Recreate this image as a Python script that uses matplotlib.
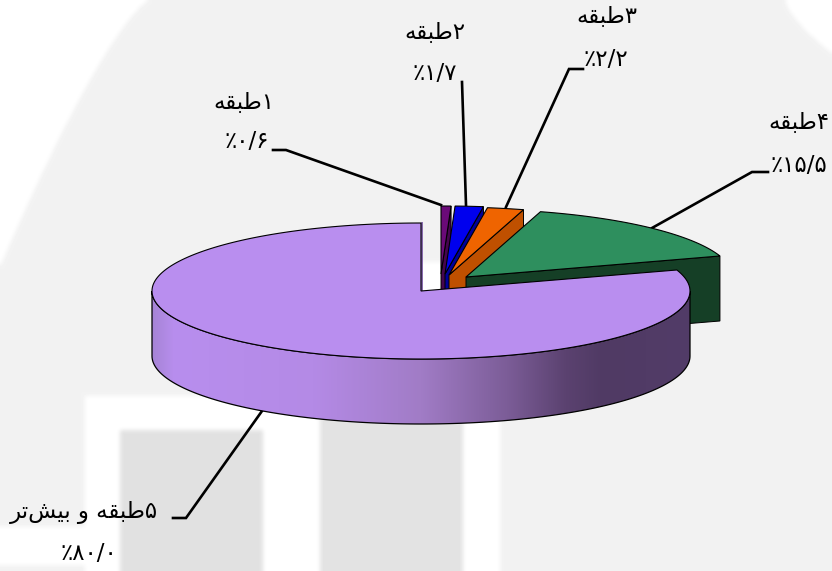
import numpy as np
import matplotlib
matplotlib.use('Agg')
import matplotlib.pyplot as plt
from matplotlib.colors import LinearSegmentedColormap
from matplotlib.patches import Polygon

plt.rcParams['font.family'] = ['DejaVu Sans']

# Chart data, share of buildings per number of floors
categories = ['۱طبقه', '۲طبقه', '۳طبقه', '۴طبقه', '۵طبقه و بیش‌تر']
values = [0.6, 1.7, 2.2, 15.5, 80.0]
top_colors = ['#6a0a78', '#0000ee', '#ef6400', '#2e8f5e', '#b98eef']
side_colors = ['#45054f', '#00009a', '#bf5000', '#153f26', '#8566ac']

# Each slice is pulled out of the pie by its own amount (apex position)
apex_x = [441, 445, 449, 466, 421]
apex_y = [274, 274, 275, 277, 291]

radius_x = [267, 267, 267, 267, 269]
radius_y = 68
depth = 65

# Label placement: centre of name, centre of percent, leader line
name_pos = [(244, 102), (435, 32), (607, 16), (799, 122), (84, 512)]
pct_pos = [(247, 141), (435, 74), (606, 60), (799, 165), (89, 553)]
leaders = [
    [(273, 150), (286, 150), (441, 205)],
    [(462, 82), (466, 205)],
    [(583, 69), (569, 69), (506, 207)],
    [(768, 172), (752, 172), (652, 228)],
    [(173, 518), (186, 518), (262, 411)],
]

# matplotlib has no Arabic shaping, so pick the joined glyphs by hand
# forms: isolated, final, initial, medial
FORMS = {
    'ط': '\ufec1\ufec2\ufec3\ufec4',
    'ب': '\ufe8f\ufe90\ufe91\ufe92',
    'ق': '\ufed5\ufed6\ufed7\ufed8',
    'ه': '\ufee9\ufeea\ufeeb\ufeec',
    'ی': '\ufbfc\ufbfd\ufbfe\ufbff',
    'ش': '\ufeb5\ufeb6\ufeb7\ufeb8',
    'ت': '\ufe95\ufe96\ufe97\ufe98',
    'و': '\ufeed\ufeee',
    'ر': '\ufead\ufeae',
}


def shape(text):
    out = []
    for i, ch in enumerate(text):
        if ch == '\u200c':
            continue
        if ch not in FORMS:
            out.append(ch)
            continue
        forms = FORMS[ch]
        prev = text[i - 1] if i > 0 else ''
        nxt = text[i + 1] if i + 1 < len(text) else ''
        from_prev = prev in FORMS and len(FORMS[prev]) == 4
        to_next = nxt in FORMS and len(forms) == 4
        if from_prev and to_next:
            out.append(forms[3])
        elif to_next:
            out.append(forms[2])
        elif from_prev:
            out.append(forms[1])
        else:
            out.append(forms[0])
    return ''.join(reversed(out))


def pct_label(v):
    s = f'{v:.1f}'.replace('.', '/')
    return '٪' + s.translate(str.maketrans('0123456789', '۰۱۲۳۴۵۶۷۸۹'))


def soften(img, size=5):
    # small box blur, run twice, for the washed out watermark edges
    kernel = np.ones(size) / size
    for _ in range(2):
        padded = np.pad(img, size, mode='edge')
        padded = np.apply_along_axis(np.convolve, 0, padded, kernel, mode='same')
        padded = np.apply_along_axis(np.convolve, 1, padded, kernel, mode='same')
        img = padded[size:-size, size:-size]
    return img


fig = plt.figure(figsize=(8.32, 5.71), dpi=100)
ax = fig.add_axes([0, 0, 1, 1])

# Faded watermark behind the chart
yy, xx = np.mgrid[0:571, 0:832]
bg = np.full((571, 832), 0.949)
bg[(xx < 148) & (yy < 265 * np.clip(1 - xx / 148, 0, 1) ** 1.3)] = 1.0
bg[(xx > 785) & (yy < 53 * ((xx - 785) / 47) ** 0.7)] = 1.0
bg[396:571, 85:500] = 1.0
bg[527:565, 0:85] = 1.0
bg[262:400, 405:500] = 1.0
bg[430:571, 120:263] = 0.882
bg[415:571, 320:463] = 0.89
ax.imshow(soften(bg), cmap='gray', vmin=0, vmax=1, aspect='auto', zorder=0, extent=(0, 832, 571, 0))
ax.set_xlim(0, 832)
ax.set_ylim(571, 0)
ax.axis('off')


def point(i, deg):
    a = np.radians(deg)
    return apex_x[i] + radius_x[i] * np.cos(a), apex_y[i] - radius_y * np.sin(a)


# Slices run clockwise from the top, the biggest one closes the circle
angles = 90 - np.cumsum([0] + values) * 3.6
zorder = 3

for i in range(len(values)):
    start = angles[i]
    end = angles[i + 1]
    arc = np.array([point(i, d) for d in np.linspace(end, start, 300)])
    apex = [apex_x[i], apex_y[i]]

    if i == 4:
        # Wall of the big slice, shaded from left to right
        wall_deg = np.linspace(180, 360, 200)
        front = np.array([point(i, d) for d in wall_deg])
        wall = np.r_[front, (front + [0, depth])[::-1]]
        wall_patch = Polygon(wall, facecolor='none', edgecolor='black', lw=0.9, zorder=zorder + 1)
        ax.add_patch(wall_patch)
        cmap = LinearSegmentedColormap.from_list('wall', [
            (0.0, '#a684d6'), (0.04, '#b88eee'), (0.3, '#b48ae6'), (0.5, '#a17cc6'),
            (0.66, '#7c5d98'), (0.77, '#5b4270'), (0.84, '#503a64'), (1.0, '#523c68')])
        im = ax.imshow(np.linspace(0, 1, 256)[None, :], cmap=cmap, aspect='auto', zorder=zorder,
                       extent=(front[:, 0].min(), front[:, 0].max(), 440, 280))
        im.set_clip_path(wall_patch)
        ax.set_xlim(0, 832)
        ax.set_ylim(571, 0)
        # Cut face seen edge on at the gap
        ax.plot([apex[0] + 1, apex[0] + 1], [point(i, 90)[1], apex[1]], color=side_colors[i],
                lw=1.4, zorder=zorder + 1)
    else:
        # Cut face on the right hand side of the slice
        p = np.array(point(i, end))
        cut = [apex, p, p + [0, depth], [apex[0], apex[1] + depth]]
        ax.add_patch(Polygon(cut, facecolor=side_colors[i], edgecolor='black', lw=0.7, zorder=zorder))

    ax.add_patch(Polygon(np.r_[[apex], arc], facecolor=top_colors[i], edgecolor='black',
                         lw=0.8, zorder=zorder + 2))
    zorder += 3

# Labels and leader lines
for i in range(len(values)):
    ax.text(name_pos[i][0], name_pos[i][1], shape(categories[i]), fontsize=16.5,
            ha='center', va='center', color='black', zorder=30)
    ax.text(pct_pos[i][0], pct_pos[i][1], pct_label(values[i]), fontsize=16.5,
            ha='center', va='center', color='black', zorder=30)
    xs, ys = zip(*leaders[i])
    ax.plot(xs, ys, color='black', lw=1.9, solid_joinstyle='miter', zorder=2.5 if i == 4 else 3)

fig.savefig('out.png', dpi=100)
